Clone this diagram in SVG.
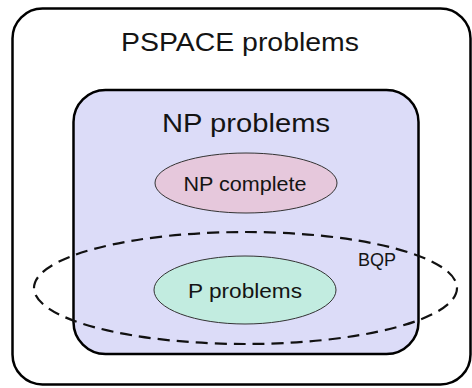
<svg xmlns="http://www.w3.org/2000/svg" width="472" height="388" viewBox="0 0 472 388">
  <style>
    .lbl { font-family: "Liberation Sans", Arial, sans-serif; fill: #141414; text-anchor: middle; }
    .box { stroke: #000; stroke-width: 2.5; }
    .set { stroke: #333; stroke-width: 1; }
  </style>
  <rect width="472" height="388" fill="#fff"/>

  <!-- outermost class -->
  <g id="pspace">
    <rect class="box" x="12.5" y="8.5" width="458" height="376" rx="30" fill="#fff"/>
    <text class="lbl" x="240" y="51" font-size="26" textLength="238" lengthAdjust="spacingAndGlyphs">PSPACE problems</text>
  </g>

  <!-- NP inside PSPACE -->
  <g id="np">
    <rect class="box" x="73.5" y="90" width="345" height="264" rx="32" fill="#dcdcf8"/>
    <text class="lbl" x="246" y="132" font-size="25" textLength="168" lengthAdjust="spacingAndGlyphs">NP problems</text>
  </g>

  <g id="np-complete">
    <ellipse class="set" cx="246" cy="183" rx="91" ry="30" fill="#e6c8dc"/>
    <text class="lbl" x="245" y="191" font-size="21" textLength="123" lengthAdjust="spacingAndGlyphs">NP complete</text>
  </g>

  <!-- BQP drawn as a dashed boundary across NP -->
  <g id="bqp">
    <ellipse cx="245.5" cy="288" rx="211.5" ry="56" fill="none" stroke="#111" stroke-width="2.2" stroke-dasharray="12 7"/>
    <text class="lbl" x="377" y="266" font-size="18" textLength="38" lengthAdjust="spacingAndGlyphs">BQP</text>
  </g>

  <g id="p">
    <ellipse class="set" cx="245" cy="290" rx="91" ry="34" fill="#c2ece0"/>
    <text class="lbl" x="245" y="298" font-size="21" textLength="114" lengthAdjust="spacingAndGlyphs">P problems</text>
  </g>
</svg>
